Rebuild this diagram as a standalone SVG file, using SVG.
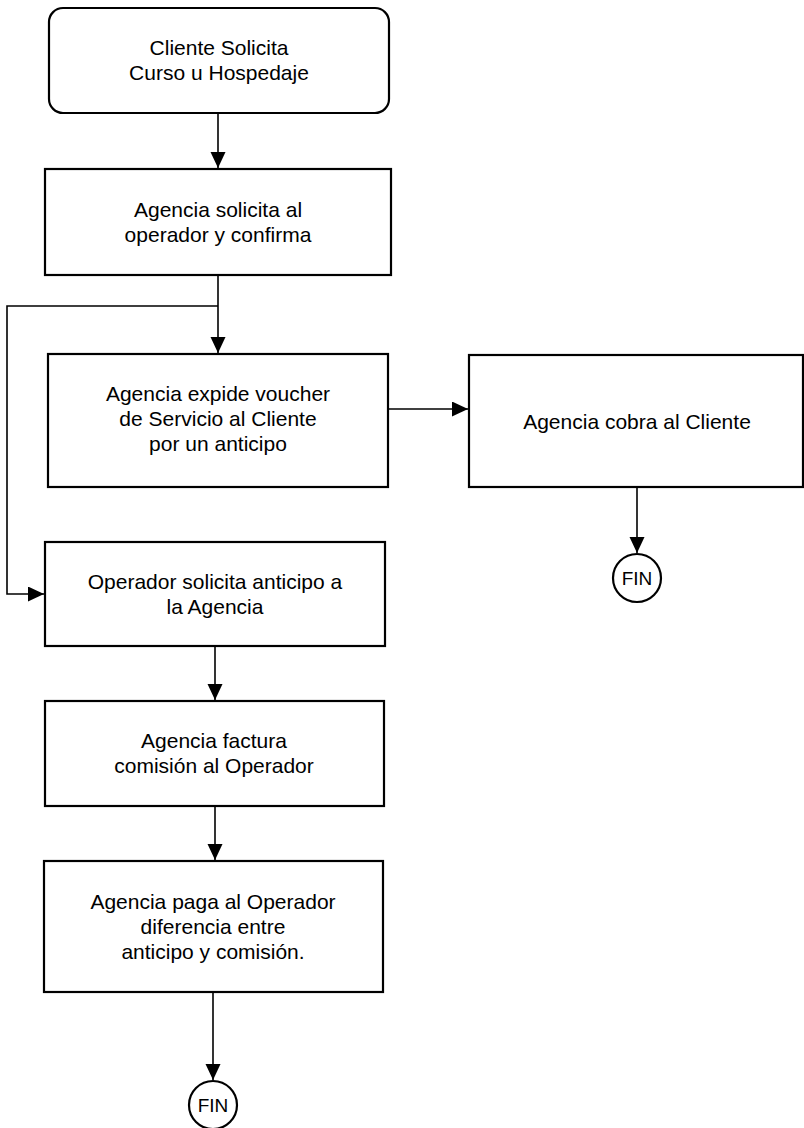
<svg xmlns="http://www.w3.org/2000/svg" width="804" height="1128" viewBox="0 0 804 1128">
<style>
  .box{fill:#fff;stroke:#000;stroke-width:2.2}
  .t{font-family:"Liberation Sans",Arial,sans-serif;font-size:21px;fill:#000;text-anchor:middle}
  .fin{font-family:"Liberation Sans",Arial,sans-serif;font-size:19px;fill:#000;text-anchor:middle}
  .c{fill:none;stroke:#000;stroke-width:1.6}
</style>
<defs>
  <marker id="ah" markerUnits="userSpaceOnUse" markerWidth="16" markerHeight="16" refX="16" refY="7.5" orient="auto">
    <path d="M0,0 L16,7.5 L0,15 z" fill="#000"/>
  </marker>
</defs>
<rect width="804" height="1128" fill="#fff"/>
<g id="connectors">
  <line class="c" x1="218" y1="113" x2="218" y2="168" marker-end="url(#ah)"/>
  <line class="c" x1="218" y1="275" x2="218" y2="353" marker-end="url(#ah)"/>
  <polyline class="c" points="218,306 7,306 7,594 44,594" marker-end="url(#ah)"/>
  <line class="c" x1="388" y1="409" x2="468" y2="409" marker-end="url(#ah)"/>
  <line class="c" x1="637" y1="487" x2="637" y2="553" marker-end="url(#ah)"/>
  <line class="c" x1="215" y1="646" x2="215" y2="700" marker-end="url(#ah)"/>
  <line class="c" x1="215" y1="806" x2="215" y2="860" marker-end="url(#ah)"/>
  <line class="c" x1="213" y1="992" x2="213" y2="1080" marker-end="url(#ah)"/>
</g>
<g id="n1">
  <rect class="box" x="49" y="8" width="340" height="105" rx="14"/>
  <text class="t" x="219" y="55">Cliente Solicita</text>
  <text class="t" x="219" y="80">Curso u Hospedaje</text>
</g>
<g id="n2">
  <rect class="box" x="45" y="169" width="346" height="106"/>
  <text class="t" x="218" y="217">Agencia solicita al</text>
  <text class="t" x="218" y="242">operador y confirma</text>
</g>
<g id="n3">
  <rect class="box" x="48" y="354" width="340" height="133"/>
  <text class="t" x="218" y="401">Agencia expide voucher</text>
  <text class="t" x="218" y="426">de Servicio al Cliente</text>
  <text class="t" x="218" y="451">por un anticipo</text>
</g>
<g id="n4">
  <rect class="box" x="469" y="355" width="334" height="132"/>
  <text class="t" x="637" y="429">Agencia cobra al Cliente</text>
</g>
<g id="fin1">
  <circle class="box" cx="637" cy="578" r="24" stroke-width="1.8"/>
  <text class="fin" x="637" y="585">FIN</text>
</g>
<g id="n5">
  <rect class="box" x="45" y="542" width="340" height="104"/>
  <text class="t" x="215" y="589">Operador solicita anticipo a</text>
  <text class="t" x="215" y="614">la Agencia</text>
</g>
<g id="n6">
  <rect class="box" x="45" y="701" width="339" height="105"/>
  <text class="t" x="214" y="748">Agencia factura</text>
  <text class="t" x="214" y="773">comisión al Operador</text>
</g>
<g id="n7">
  <rect class="box" x="44" y="861" width="339" height="131"/>
  <text class="t" x="213" y="909">Agencia paga al Operador</text>
  <text class="t" x="213" y="934">diferencia entre</text>
  <text class="t" x="213" y="959">anticipo y comisión.</text>
</g>
<g id="fin2">
  <circle class="box" cx="213" cy="1105" r="24" stroke-width="1.8"/>
  <text class="fin" x="213" y="1112">FIN</text>
</g>
</svg>
